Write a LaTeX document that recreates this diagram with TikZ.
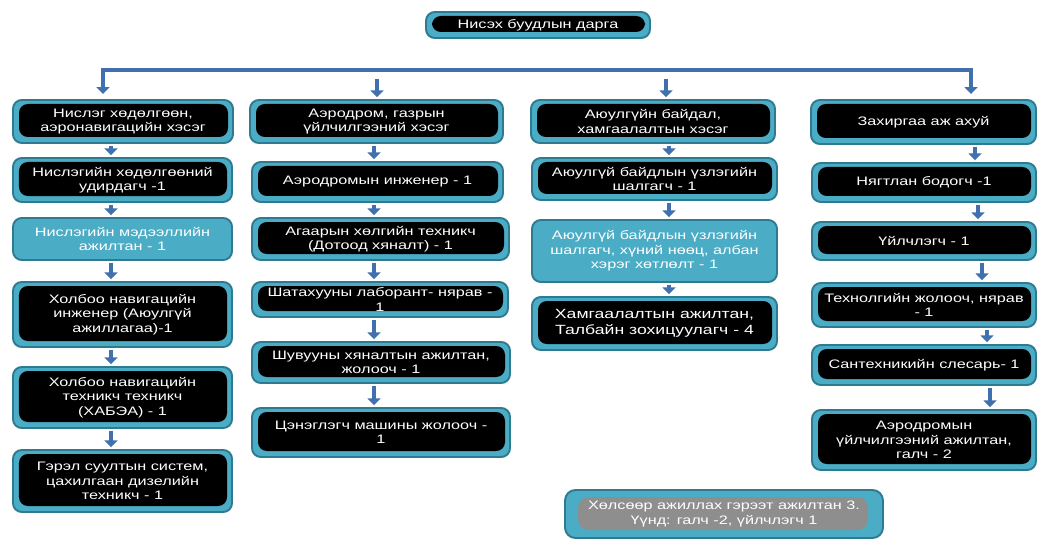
\documentclass[tikz,border=0pt]{standalone}
\usepackage{fontspec}
\setmainfont{Liberation Sans}[FakeStretch=1.32]
\usepackage{xcolor}
\usepackage{tikz}
\usetikzlibrary{arrows.meta}

\definecolor{tealfill}{HTML}{4BACC6}
\definecolor{tealedge}{HTML}{2E7A90}
\definecolor{arrowblue}{HTML}{4170AE}
\definecolor{greyfill}{HTML}{8E8E8E}

\tikzset{
  unit/.style={draw=tealedge, line width=1.1pt, fill=tealfill, rounded corners=5pt,
    text=white, align=center, inner sep=0pt,
    font=\fontsize{7}{8.2}\selectfont,
    path picture={\fill[black] ([shift={(0.12,-0.08)}]path picture bounding box.north west)
      rectangle ([shift={(-0.10,0.12)}]path picture bounding box.south east);}},
  lightunit/.style={draw=tealedge, line width=1.1pt, fill=tealfill, rounded corners=5pt,
    text=white, align=center, inner sep=0pt, font=\fontsize{7}{8.2}\selectfont},
  greyunit/.style={draw=tealedge, line width=1.1pt, fill=tealfill, rounded corners=6pt,
    text=white, align=center, inner sep=0pt, font=\fontsize{7}{8.2}\selectfont,
    path picture={\fill[greyfill] ([shift={(0.26,-0.14)}]path picture bounding box.north west)
      rectangle ([shift={(-0.30,0.16)}]path picture bounding box.south east);}},
  flow/.style={draw=arrowblue, line width=0.08cm,
    -{Triangle[width=0.26cm,length=0.14cm]}, shorten >=1pt, shorten <=1pt},
  bus/.style={draw=arrowblue, line width=0.08cm,
    {Triangle[width=0.26cm,length=0.14cm]}-{Triangle[width=0.26cm,length=0.14cm]},
    shorten >=0.1cm, shorten <=0.1cm}
}

\begin{document}
\begin{tikzpicture}
	\useasboundingbox (0,0) rectangle (20.76,-10.8);
	% head
	\node[unit, minimum width=4.48cm, minimum height=0.52cm] (head) at (10.76,-0.50) {Нисэх буудлын дарга};
	% departments
	\node[unit, minimum width=4.40cm, minimum height=0.86cm] (c1) at (2.46,-2.43) {Нислэг хөдөлгөөн,\\аэронавигацийн хэсэг};
	\node[unit, minimum width=5.06cm, minimum height=0.86cm] (c2) at (7.53,-2.43) {Аэродром, газрын\\үйлчилгээний хэсэг};
	\node[unit, minimum width=4.88cm, minimum height=0.86cm] (c3) at (13.06,-2.43) {Аюулгүйн байдал,\\хамгаалалтын хэсэг};
	\node[unit, minimum width=4.50cm, minimum height=0.88cm] (c4) at (18.47,-2.44) {Захиргаа аж ахуй};
	% column 1
	\node[unit, minimum width=4.38cm, minimum height=0.88cm] (a1) at (2.45,-3.60) {Нислэгийн хөдөлгөөний\\удирдагч -1};
	\node[lightunit, minimum width=4.38cm, minimum height=0.84cm] (a2) at (2.45,-4.78) {Нислэгийн мэдээллийн\\ажилтан - 1};
	\node[unit, minimum width=4.38cm, minimum height=1.30cm] (a3) at (2.45,-6.29) {Холбоо навигацийн\\инженер (Аюулгүй\\ажиллагаа)-1};
	\node[unit, minimum width=4.38cm, minimum height=1.22cm] (a4) at (2.45,-7.95) {Холбоо навигацийн\\техникч техникч\\(ХАБЭА) - 1};
	\node[unit, minimum width=4.38cm, minimum height=1.24cm] (a5) at (2.45,-9.62) {Гэрэл суултын систем,\\цахилгаан дизелийн\\техникч - 1};
	% column 2
	\node[unit, minimum width=5.02cm, minimum height=0.80cm] (b1) at (7.55,-3.64) {Аэродромын инженер - 1};
	\node[unit, minimum width=5.14cm, minimum height=0.84cm] (b2) at (7.61,-4.78) {Агаарын хөлгийн техникч\\(Дотоод хяналт) - 1};
	\node[unit, minimum width=5.12cm, minimum height=0.70cm] (b3) at (7.60,-5.99) {Шатахууны лаборант- нярав -\\1};
	\node[unit, minimum width=5.16cm, minimum height=0.82cm] (b4) at (7.62,-7.25) {Шувууны хяналтын ажилтан,\\жолооч - 1};
	\node[unit, minimum width=5.16cm, minimum height=0.98cm] (b5) at (7.62,-8.65) {Цэнэглэгч машины жолооч -\\1};
	% column 3
	\node[unit, minimum width=4.90cm, minimum height=0.84cm] (d1) at (13.09,-3.58) {Аюулгүй байдлын үзлэгийн\\шалгагч - 1};
	\node[lightunit, minimum width=4.90cm, minimum height=1.24cm] (d2) at (13.09,-5.02) {Аюулгүй байдлын үзлэгийн\\шалгагч, хүний нөөц, албан\\хэрэг хөтлөлт - 1};
	\node[unit, minimum width=4.90cm, minimum height=1.06cm, font=\fontsize{7.6}{9.4}\selectfont] (d3) at (13.09,-6.47) {Хамгаалалтын ажилтан,\\Талбайн зохицуулагч - 4};
	% column 4
	\node[unit, minimum width=4.48cm, minimum height=0.78cm] (e1) at (18.48,-3.65) {Нягтлан бодогч -1};
	\node[unit, minimum width=4.48cm, minimum height=0.76cm] (e2) at (18.48,-4.82) {Үйлчлэгч - 1};
	\node[unit, minimum width=4.48cm, minimum height=0.88cm] (e3) at (18.48,-6.10) {Технолгийн жолооч, нярав\\- 1};
	\node[unit, minimum width=4.48cm, minimum height=0.80cm] (e4) at (18.48,-7.30) {Сантехникийн слесарь- 1};
	\node[unit, minimum width=4.48cm, minimum height=1.20cm] (e5) at (18.48,-8.80) {Аэродромын\\үйлчилгээний ажилтан,\\галч - 2};
	% contract staff
	\node[greyunit, minimum width=6.36cm, minimum height=0.96cm] (g) at (14.48,-10.28) {Хөлсөөр ажиллах гэрээт ажилтан 3.\\Үүнд: галч -2, үйлчлэгч 1};

	% bus and branch arrows
	\coordinate (busL) at (2.06,-1.40);
	\coordinate (busR) at (19.42,-1.40);
	\draw[bus] (busL |- c1.north) -- (busL) -- (busR) -- (busR |- c4.north);
	\coordinate (t2) at (7.54,-1.54);
	\coordinate (t3) at (13.32,-1.54);
	\draw[flow] (t2) -- (t2 |- c2.north);
	\draw[flow] (t3) -- (t3 |- c3.north);

	% column arrows
	\coordinate (x1) at (2.22,0);
	\coordinate (x2) at (7.48,0);
	\coordinate (x3) at (13.38,0);
	\foreach \u/\v in {c1/a1,a1/a2,a2/a3,a3/a4,a4/a5}
		\draw[flow] (x1 |- \u.south) -- (x1 |- \v.north);
	\foreach \u/\v in {c2/b1,b1/b2,b2/b3,b3/b4,b4/b5}
		\draw[flow] (x2 |- \u.south) -- (x2 |- \v.north);
	\foreach \u/\v in {c3/d1,d1/d2,d2/d3}
		\draw[flow] (x3 |- \u.south) -- (x3 |- \v.north);
	\foreach \u/\v/\x in {c4/e1/19.50,e1/e2/19.56,e2/e3/19.64,e3/e4/19.74,e4/e5/19.80}
		\draw[flow] (\x,0 |- \u.south) -- (\x,0 |- \v.north);
\end{tikzpicture}
\end{document}
